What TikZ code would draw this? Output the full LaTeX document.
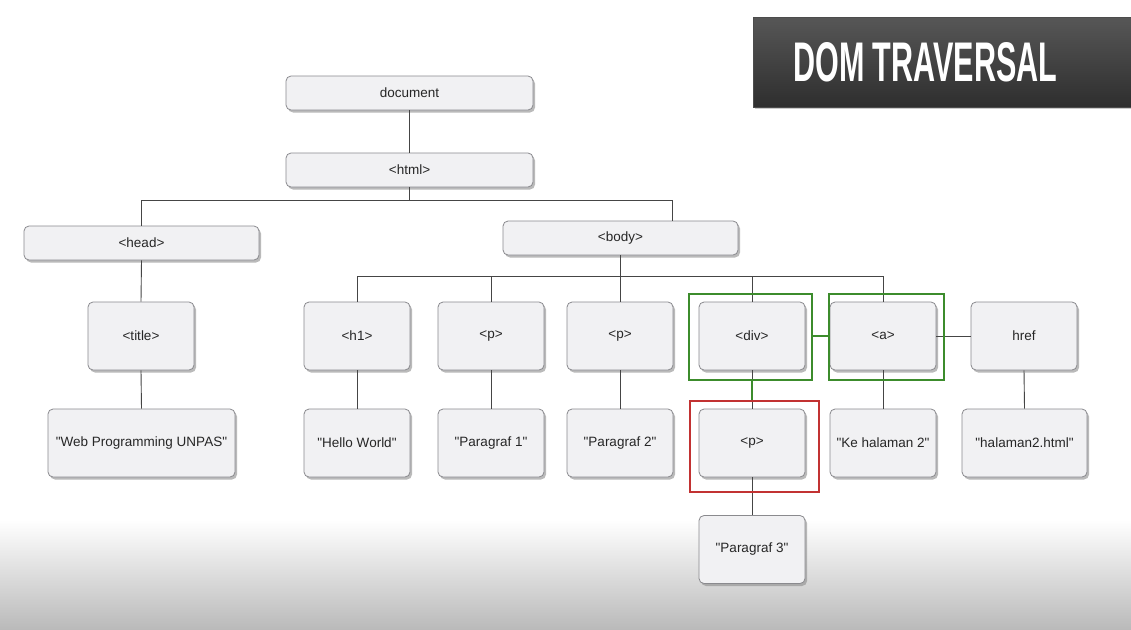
\documentclass[tikz,border=0pt]{standalone}
\usepackage{fontspec}
\setmainfont{Liberation Sans}[Ligatures=TeXOff]
\usetikzlibrary{shadows}
\definecolor{boxfill}{HTML}{F1F1F3}
\definecolor{boxline}{HTML}{8A8A8E}
\definecolor{linkcol}{HTML}{454545}
\definecolor{hlgreen}{HTML}{3C8C2C}
\definecolor{hlred}{HTML}{C23232}
\begin{document}
\begin{tikzpicture}[x=1pt,y=-1pt,
  nodebox/.style={draw=boxline, line width=0.8pt, fill=boxfill, rounded corners=5pt,
    inner sep=0pt, text=black!85, font=\fontsize{13.5}{15}\selectfont,
    drop shadow={shadow xshift=2pt, shadow yshift=-2.5pt, fill=black!45, opacity=0.6}},
  wide/.style={nodebox, minimum width=247pt, minimum height=34pt},
  mid/.style={nodebox, minimum width=235pt, minimum height=34pt},
  small/.style={nodebox, minimum width=106pt, minimum height=68pt},
  link/.style={draw=linkcol, line width=0.9pt},
  hlg/.style={draw=hlgreen, line width=2.4pt},
  hlr/.style={draw=hlred, line width=2.4pt}
]
\useasboundingbox (0,0) rectangle (1131,629);
\fill[white] (0,0) rectangle (1131,629);
\shade[top color=white, bottom color=black!27] (0,520) rectangle (1131,629);

% title banner
\node[draw=black!70, line width=0.6pt, top color=black!66, bottom color=black!82, minimum width=378pt, minimum height=90pt, inner sep=0pt,
  drop shadow={shadow xshift=1.5pt, shadow yshift=-2pt, fill=black!40, opacity=0.5}] (banner) at (942,62) {};
\node[text=white, inner sep=0pt, anchor=west] (bannertext) at (793,62.5) {\resizebox{264pt}{39pt}{\bfseries DOM TRAVERSAL}};

% nodes
\node[wide] (doc) at (409.5,93) {document};
\node[wide] (html) at (409.5,170) {<html>};
\node[mid] (head) at (141.5,243) {<head>};
\node[mid] (body) at (620.5,238) {<body>};
\node[small] (title) at (141,336) {<title>};
\node[nodebox, minimum width=187pt, minimum height=68pt] (wpu) at (141.5,443) {"Web Programming UNPAS"};
\node[small] (h1) at (357,336) {<h1>};
\node[small] (p1) at (491,336) {<p>};
\node[small] (p2) at (620,336) {<p>};
\node[small] (div) at (752,336) {<div>};
\node[small] (a) at (883,336) {<a>};
\node[small] (href) at (1024,336) {href};
\node[small] (hw) at (357,443) {"Hello World"};
\node[small] (par1) at (491,443) {"Paragraf 1"};
\node[small] (par2) at (620,443) {"Paragraf 2"};
\node[small] (p3) at (752,443) {<p>};
\node[small] (ke) at (883,443) {"Ke halaman 2"};
\node[nodebox, minimum width=125pt, minimum height=68pt] (hh) at (1024.5,443) {"halaman2.html"};
\node[small] (par3) at (752,549.5) {"Paragraf 3"};

% junction coordinates
\coordinate (busA) at (409.5,200);
\coordinate (busAl) at (141.5,200);
\coordinate (busAr) at (672,200);
\coordinate (busB) at (620.5,276);
\coordinate (busBl) at (357,276);
\coordinate (busBr) at (883,276);

% connectors
\draw[link] (doc.south) -- (html.north);
\draw[link] (html.south) -- (busA);
\draw[link] (busAl) -- (busAr);
\draw[link] (busAl) -- (head.north);
\draw[link] (busAr) -- (busAr |- body.north);
\draw[link] (head.south) -- (title.north);
\draw[link] (title.south) -- (wpu.north);
\draw[link] (body.south) -- (busB);
\draw[link] (busBl) -- (busBr);
\draw[link] (busBl) -- (h1.north);
\draw[link] (p1.north |- busB) -- (p1.north);
\draw[link] (p2.north |- busB) -- (p2.north);
\draw[link] (div.north |- busB) -- (div.north);
\draw[link] (busBr) -- (a.north);
\draw[link] (a.east) -- (href.west);
\draw[link] (h1.south) -- (hw.north);
\draw[link] (p1.south) -- (par1.north);
\draw[link] (p2.south) -- (par2.north);
\draw[link] (div.south) -- (p3.north);
\draw[link] (a.south) -- (ke.north);
\draw[link] (href.south) -- (hh.north);
\draw[link] (p3.south) -- (par3.north);

% highlights
\coordinate (g1a) at (689,294);
\coordinate (g1b) at (812,380);
\coordinate (g2a) at (829,294);
\coordinate (g2b) at (944,380);
\coordinate (r1a) at (690,401);
\coordinate (r1b) at (819,492);
\draw[hlg] (g1a) rectangle (g1b);
\draw[hlg] (g2a) rectangle (g2b);
\draw[hlg] (g1b |- div.east) -- (g2a |- a.west);
\draw[hlg] (div.south |- g1b) -- (div.south |- r1a);
\draw[hlr] (r1a) rectangle (r1b);
\end{tikzpicture}
\end{document}
